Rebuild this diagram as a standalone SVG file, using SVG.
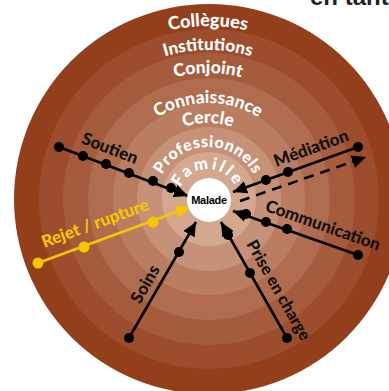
<svg xmlns="http://www.w3.org/2000/svg" xmlns:xlink="http://www.w3.org/1999/xlink" width="389" height="391" viewBox="0 0 389 391">
<style>
.ring{stroke:none}
.rl{font-family:Lato,"Open Sans","Liberation Sans",sans-serif;font-weight:900;fill:#ffffff}
.ll{font-family:Lato,"Open Sans","Liberation Sans",sans-serif;font-weight:900;fill:#111111;font-size:17px;text-anchor:middle}
.ln{stroke:#000;stroke-width:2.6;fill:none}
.dot{fill:#000}
.yl{stroke:#f7c600}
.ydot{fill:#f7c600}
</style>
<defs>
<marker id="ah" markerUnits="userSpaceOnUse" markerWidth="15" markerHeight="13" refX="14" refY="6.5" orient="auto"><path d="M0,0 L14,6.5 L0,13 z" fill="#000"/></marker>
<marker id="ahy" markerUnits="userSpaceOnUse" markerWidth="15" markerHeight="13" refX="14" refY="6.5" orient="auto"><path d="M0,0 L14,6.5 L0,13 z" fill="#f7c600"/></marker>
<path id="a173" d="M35,199 A173,173 0 0 1 381,199"/>
<path id="a149" d="M59,199 A149,149 0 0 1 357,199"/>
<path id="a126" d="M82,199 A126,126 0 0 1 334,199"/>
<path id="a96" d="M112,199 A96,96 0 0 1 304,199"/>
<path id="a76" d="M132,199 A76,76 0 0 1 284,199"/>
<path id="a52" d="M156,199 A52,52 0 0 1 260,199"/>
<path id="a30" d="M178,199 A30,30 0 0 1 238,199"/>
</defs>
<text x="310" y="5" font-family="'Liberation Sans',Arial,sans-serif" font-weight="bold" font-size="24" fill="#231f20">en tant</text>
<g id="rings">
<circle class="ring" cx="209" cy="199" r="195" fill="#933f1c"/>
<circle class="ring" cx="209" cy="199" r="170" fill="#9b4d2d"/>
<circle class="ring" cx="209" cy="199" r="146" fill="#a55c3d"/>
<circle class="ring" cx="209" cy="199" r="121" fill="#af6c4e"/>
<circle class="ring" cx="209" cy="199" r="96" fill="#ba7d61"/>
<circle class="ring" cx="209" cy="199" r="72" fill="#c69179"/>
<circle class="ring" cx="209" cy="199" r="47" fill="#d3a88f"/>
</g>
<g id="ring-labels">
<text class="rl" font-size="18"><textPath xlink:href="#a173" href="#a173" startOffset="50%" text-anchor="middle">Collègues</textPath></text>
<text class="rl" font-size="17"><textPath xlink:href="#a149" href="#a149" startOffset="50%" text-anchor="middle">Institutions</textPath></text>
<text class="rl" font-size="17.5"><textPath xlink:href="#a126" href="#a126" startOffset="50%" text-anchor="middle">Conjoint</textPath></text>
<text class="rl" font-size="17.5"><textPath xlink:href="#a96" href="#a96" startOffset="50%" text-anchor="middle">Connaissance</textPath></text>
<text class="rl" font-size="17.5"><textPath xlink:href="#a76" href="#a76" startOffset="50%" text-anchor="middle">Cercle</textPath></text>
<text class="rl" font-size="16" letter-spacing="0.6"><textPath xlink:href="#a52" href="#a52" startOffset="50%" text-anchor="middle">Professionnels</textPath></text>
<text class="rl" font-size="16.5" letter-spacing="2.6"><textPath xlink:href="#a30" href="#a30" startOffset="50%" text-anchor="middle">Famille</textPath></text>
</g>
<g id="connectors">
<line class="ln" x1="59" y1="147" x2="188" y2="196" marker-end="url(#ah)"/>
<line class="ln yl" x1="38" y1="263" x2="190" y2="207" marker-end="url(#ahy)"/>
<line class="ln" x1="358" y1="147" x2="233" y2="192" marker-end="url(#ah)"/>
<line class="ln" x1="240" y1="201" x2="366" y2="157" stroke-dasharray="10,7" marker-end="url(#ah)"/>
<line class="ln" x1="358" y1="255" x2="233" y2="211" marker-end="url(#ah)"/>
<line class="ln" x1="129" y1="338" x2="196" y2="222" marker-end="url(#ah)"/>
<line class="ln" x1="287" y1="338" x2="221" y2="222" marker-end="url(#ah)"/>
<g id="dots">
<circle class="dot" cx="59" cy="147" r="5"/><circle class="dot" cx="83" cy="156" r="5"/><circle class="dot" cx="106" cy="164" r="5"/><circle class="dot" cx="129" cy="173" r="5"/><circle class="dot" cx="153" cy="181" r="5"/><circle class="dot" cx="171" cy="188" r="5"/>
<circle class="ydot" cx="38" cy="263" r="5.5"/><circle class="ydot" cx="84" cy="247" r="5.5"/><circle class="ydot" cx="153" cy="222" r="5.5"/>
<circle class="dot" cx="358" cy="147" r="5"/><circle class="dot" cx="288" cy="172" r="5"/><circle class="dot" cx="266" cy="180" r="5"/>
<circle class="dot" cx="358" cy="255" r="5"/><circle class="dot" cx="287" cy="229" r="5"/><circle class="dot" cx="266" cy="222" r="5"/><circle class="dot" cx="246" cy="214" r="5"/>
<circle class="dot" cx="129" cy="338" r="5"/><circle class="dot" cx="179" cy="252" r="5"/>
<circle class="dot" cx="287" cy="338" r="5"/><circle class="dot" cx="250" cy="273" r="5"/><circle class="dot" cx="228" cy="235" r="5"/>
</g>
</g>
<g id="connector-labels">
<text class="ll" transform="translate(110,148) rotate(21)" y="6">Soutien</text>
<text class="ll" transform="translate(95,223) rotate(-20)" y="6" style="fill:#f7c600">Rejet / rupture</text>
<text class="ll" transform="translate(311,148) rotate(-20)" y="6">Médiation</text>
<text class="ll" transform="translate(323,225) rotate(19.4)" y="6">Communication</text>
<text class="ll" transform="translate(145,284) rotate(-60)" y="6">Soins</text>
<text class="ll" transform="translate(279,290) rotate(60.4)" y="6" style="font-size:16.5px">Prise en charge</text>
</g>
<g id="malade">
<circle cx="209" cy="200" r="22" fill="#ffffff"/>
<text x="209" y="204" text-anchor="middle" font-family="'Liberation Sans',Arial,sans-serif" font-weight="bold" font-size="11" fill="#000" letter-spacing="-0.3">Malade</text>
</g>
</svg>
